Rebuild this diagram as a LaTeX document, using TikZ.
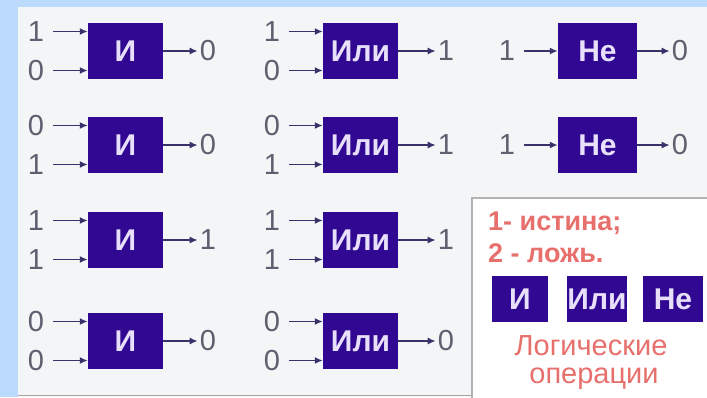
\documentclass[tikz,border=0pt]{standalone}
\usepackage{fontspec}
\setmainfont{Liberation Sans}
\usetikzlibrary{arrows.meta}
\definecolor{skyblue}{RGB}{188,219,252}
\definecolor{panel}{RGB}{243,245,247}
\definecolor{gatefill}{RGB}{48,8,145}
\definecolor{gatetext}{RGB}{232,224,250}
\definecolor{bitgray}{RGB}{95,95,112}
\definecolor{wireblue}{RGB}{55,50,105}
\definecolor{legendred}{RGB}{232,112,108}
\begin{document}
\begin{tikzpicture}[x=1pt,y=-1pt,
    gate/.style={fill=gatefill,text=gatetext,inner sep=0pt,minimum width=75pt,
      minimum height=56pt,font=\bfseries\fontsize{30}{30}\selectfont},
    bit/.style={text=bitgray,inner sep=0pt,font=\fontsize{29}{29}\selectfont},
    wire/.style={draw=wireblue,line width=1.8pt,-{Latex[length=8pt,width=7pt]}},
    legend/.style={text=legendred,inner sep=0pt}]
    \useasboundingbox (0,0) rectangle (707,397);
    \fill[skyblue] (0,0) rectangle (707,397);
    \fill[panel] (18,7) rectangle (707,397);
    \draw[gray!70,line width=0.8pt] (18,395) -- (707,395);
    % two-input gates: name/x/y/label/a/b/out/input x/output x
    \foreach \n/\x/\y/\t/\a/\b/\q/\xi/\xo in {
        and1/125.5/51/И/1/0/0/36/208, and2/125.5/145/И/0/1/0/36/208,
        and3/125.5/240/И/1/1/1/36/208, and4/125.5/341/И/0/0/0/36/208,
        or1/360.5/51/Или/1/0/1/272/446, or2/360.5/145/Или/0/1/1/272/446,
        or3/360.5/240/Или/1/1/1/272/446, or4/360.5/341/Или/0/0/0/272/446} {
      \node[gate] (\n) at (\x,\y) {\t};
      \node[bit] (\n-a) at (\xi,\y-19.5) {\a};
      \node[bit] (\n-b) at (\xi,\y+19.5) {\b};
      \node[bit] (\n-q) at (\xo,\y) {\q};
      \draw[wire,shorten <=9pt] (\n-a) -- (\n-a -| \n.west);
      \draw[wire,shorten <=9pt] (\n-b) -- (\n-b -| \n.west);
      \draw[wire,shorten >=2pt] (\n) -- (\n-q);
    }
    % not gates
    \node[gate,minimum width=79pt] (not1) at (597.5,51) {Не};
    \node[bit] (not1-a) at (507,51) {1};
    \node[bit] (not1-q) at (680,51) {0};
    \draw[wire,shorten <=9pt] (not1-a) -- (not1);
    \draw[wire,shorten >=2pt] (not1) -- (not1-q);
    \node[gate,minimum width=79pt] (not2) at (597.5,145) {Не};
    \node[bit] (not2-a) at (507,145) {1};
    \node[bit] (not2-q) at (680,145) {0};
    \draw[wire,shorten <=9pt] (not2-a) -- (not2);
    \draw[wire,shorten >=2pt] (not2) -- (not2-q);
    % legend
    \filldraw[fill=white,draw=gray!60,line width=1.2pt] (472,198) rectangle (712,402);
    \node[legend,anchor=base west,font=\bfseries\fontsize{27}{27}\selectfont] (true) at (488,230) {1- истина;};
    \node[legend,anchor=base west,font=\bfseries\fontsize{27}{27}\selectfont] (false) at (488,262) {2 - ложь.};
    \node[gate,minimum width=56pt,minimum height=46pt] (keyand) at (520,299) {И};
    \node[gate,minimum width=60pt,minimum height=46pt] (keyor) at (597,299) {Или};
    \node[gate,minimum width=60pt,minimum height=46pt] (keynot) at (673,299) {Не};
    \node[legend,anchor=base,font=\fontsize{29}{29}\selectfont] (ops1) at (591,355) {Логические};
    \node[legend,anchor=base,font=\fontsize{29}{29}\selectfont] (ops2) at (594,383) {операции};
\end{tikzpicture}
\end{document}
